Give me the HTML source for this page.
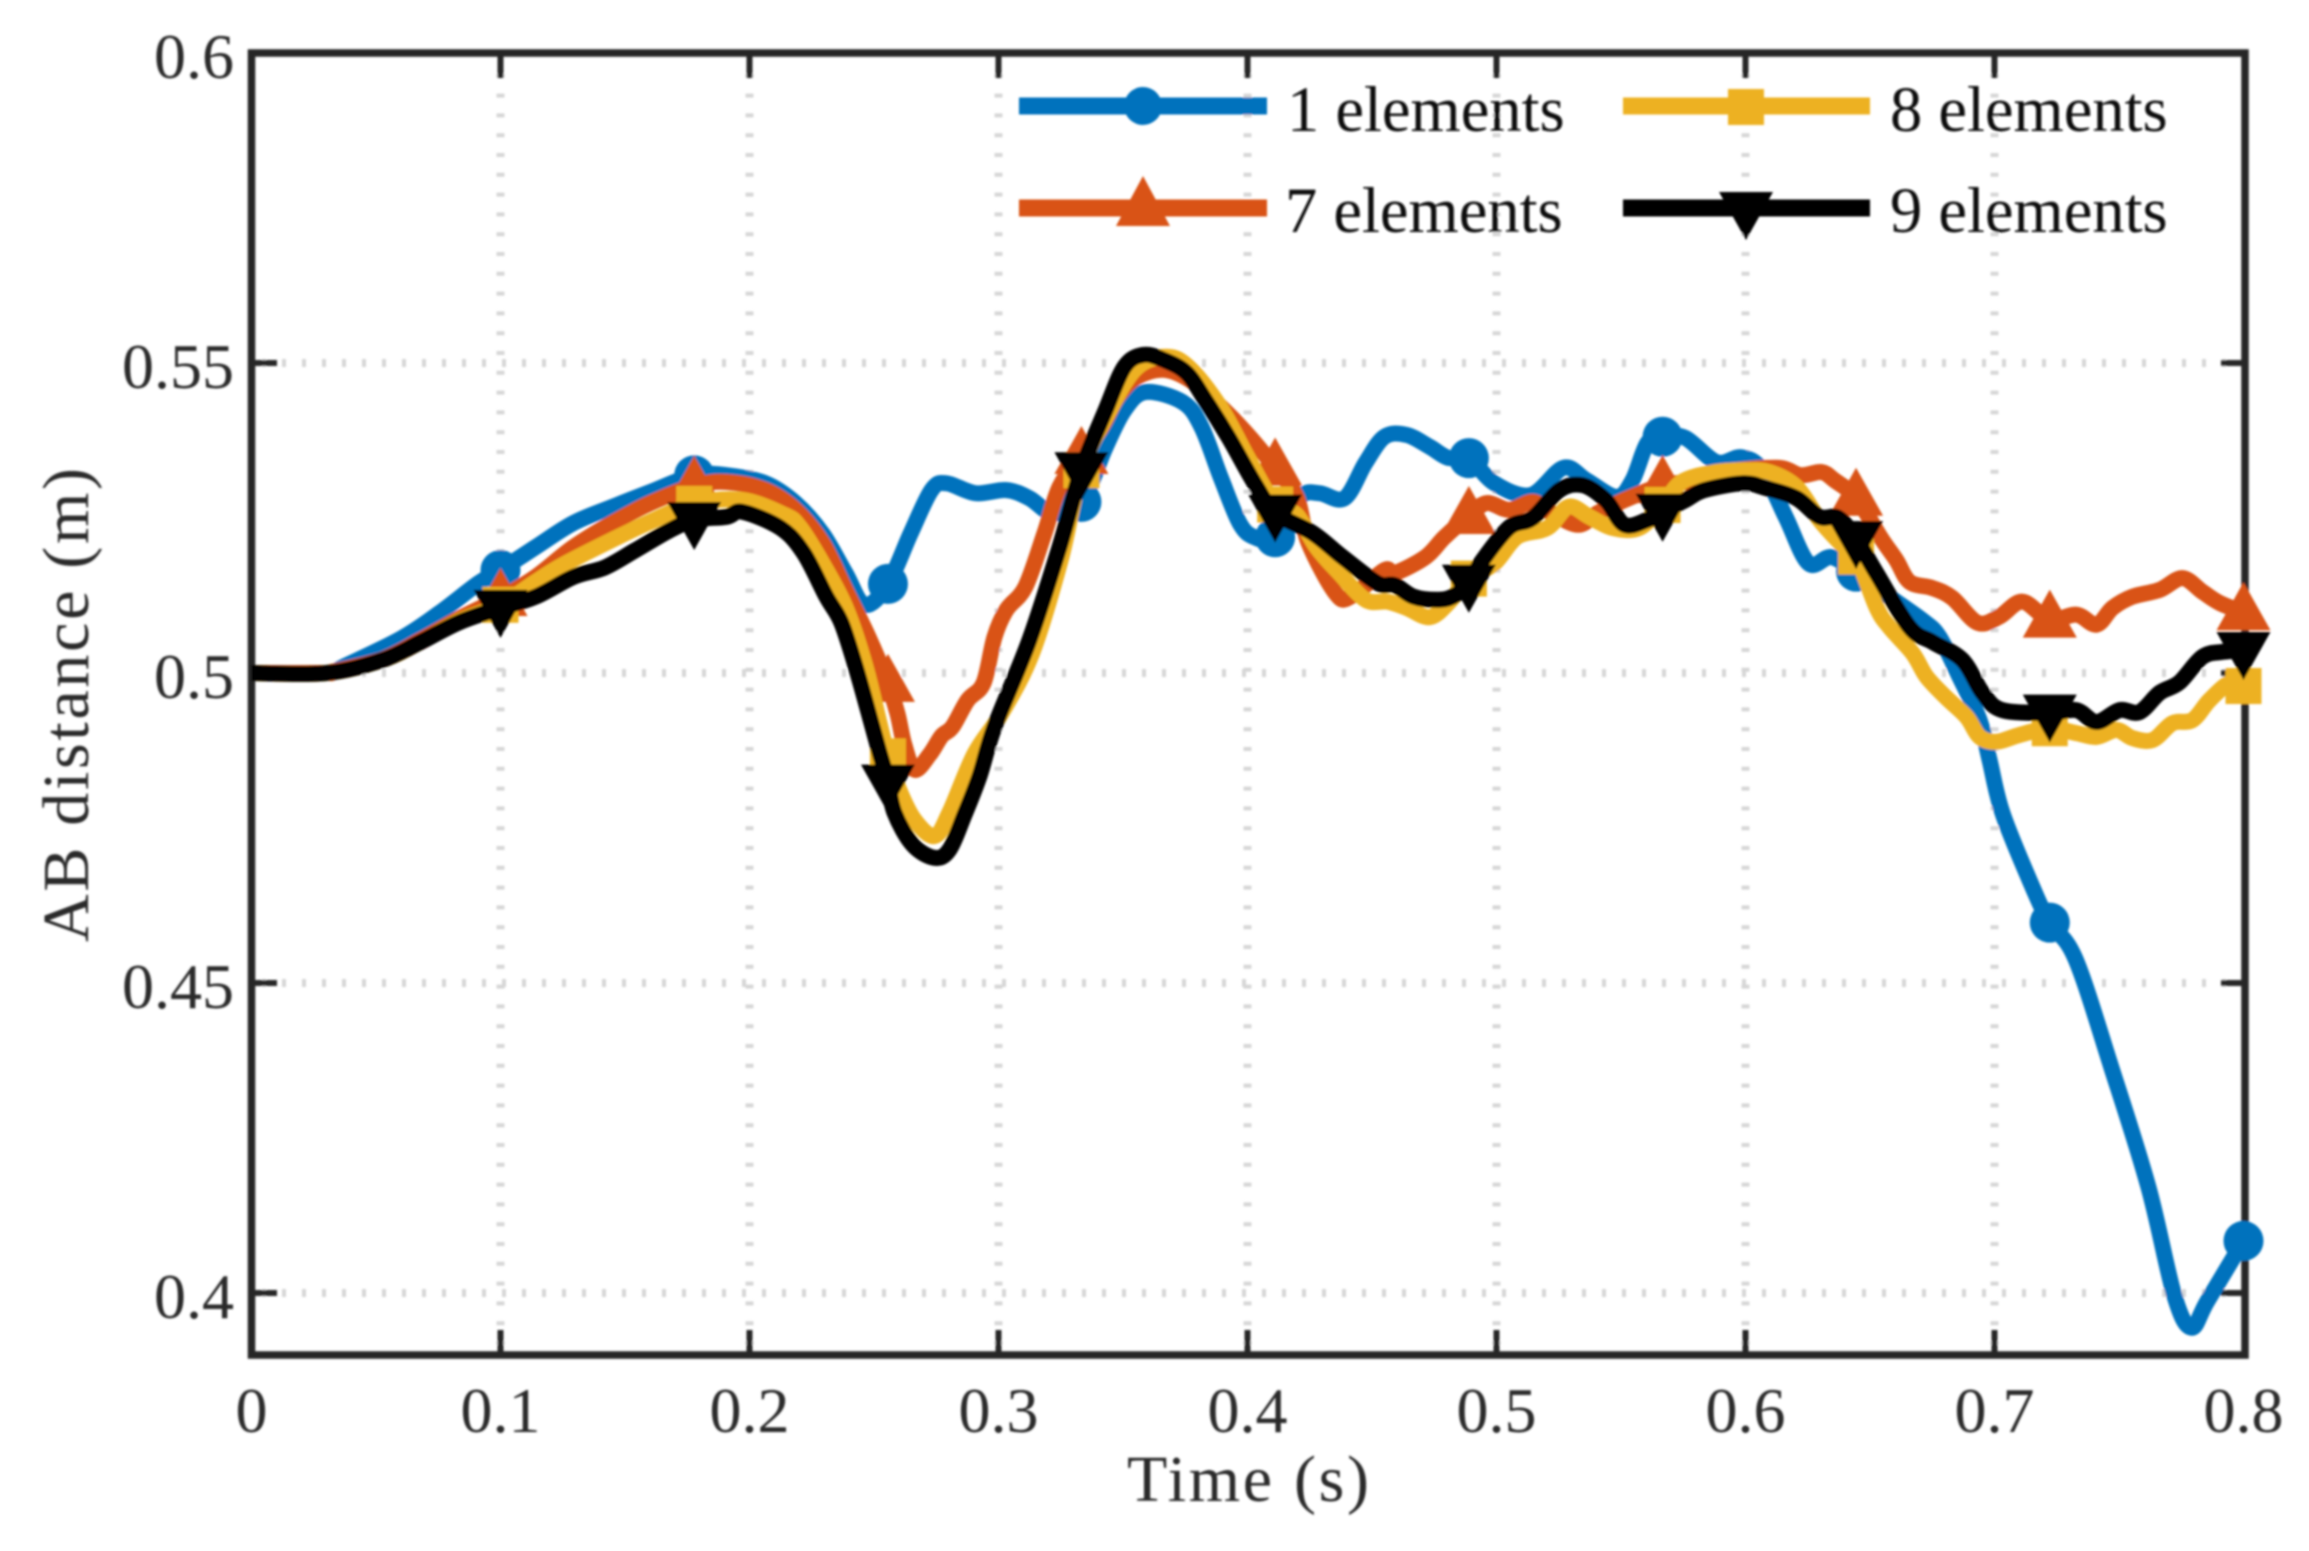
<!DOCTYPE html>
<html lang="en">
<head>
<meta charset="utf-8">
<title>AB distance over time</title>
<style>
html,body{margin:0;padding:0;background:#fff;}
#chart{display:block;width:2309px;height:1551px;}
text{font-family:"Liberation Serif",serif;}
</style>
</head>
<body>
<svg id="chart" xmlns="http://www.w3.org/2000/svg" width="2309" height="1551" viewBox="0 0 2309 1551">
  <defs>
    <filter id="soft" x="0" y="0" width="100%" height="100%" filterUnits="userSpaceOnUse" primitiveUnits="userSpaceOnUse">
      <feGaussianBlur stdDeviation="1"/>
    </filter>
  </defs>
  <rect x="0" y="0" width="2309" height="1551" fill="#ffffff"/>
  <g id="root" filter="url(#soft)">
    <g id="grid"></g>
    <g id="axes">
      <rect x="251.5" y="53" width="1993.5" height="1302" fill="none" stroke="#262626" stroke-width="7.5"/>
    </g>
    <g id="ticks"></g>
    <text x="1127" y="1501" font-size="66" fill="#2a2a2a" textLength="242" lengthAdjust="spacing">Time (s)</text>
    <text transform="translate(88,942) rotate(-90)" font-size="66" fill="#2a2a2a" textLength="474" lengthAdjust="spacing">AB distance (m)</text>
    <g id="series"></g>
    <g id="legend">
      <g>
        <line x1="1019" y1="106" x2="1267" y2="106" stroke="#0072BD" stroke-width="17"/>
        <circle cx="1143" cy="106" r="19" fill="#0072BD"/>
        <text x="1287" y="131" font-size="64.5" fill="#111">1 elements</text>
      </g>
      <g>
        <line x1="1019" y1="208" x2="1267" y2="208" stroke="#D95319" stroke-width="17"/>
        <polygon points="1143,176 1170,226 1116,226" fill="#D95319"/>
        <text x="1285" y="232" font-size="64.5" fill="#111">7 elements</text>
      </g>
      <g>
        <line x1="1623" y1="106" x2="1870" y2="106" stroke="#EDB120" stroke-width="17"/>
        <rect x="1728" y="89" width="36" height="36" fill="#EDB120"/>
        <text x="1890" y="131" font-size="64.5" fill="#111">8 elements</text>
      </g>
      <g>
        <line x1="1623" y1="208" x2="1870" y2="208" stroke="#000000" stroke-width="17"/>
        <polygon points="1746,240 1773,192 1719,192" fill="#000000"/>
        <text x="1890" y="232" font-size="64.5" fill="#111">9 elements</text>
      </g>
    </g>
  </g>
</svg>
<script>
const xTicks = [0, 0.1, 0.2, 0.3, 0.4, 0.5, 0.6, 0.7, 0.8];
const xTickLabels = ["0", "0.1", "0.2", "0.3", "0.4", "0.5", "0.6", "0.7", "0.8"];
const yTicks = [0.4, 0.45, 0.5, 0.55, 0.6];
const yTickLabels = ["0.4", "0.45", "0.5", "0.55", "0.6"];
const markerTimes = [0.1, 0.1778, 0.2556, 0.3333, 0.4111, 0.4889, 0.5667, 0.6444, 0.7222, 0.8];

const blueTimes = [0,.0301,.0373,.0602,.0755,.0912,.1,.1141,.1293,.145,.1602,.1779,.1908,.2064,.2185,.2293,.2386,.2462,.2554,.2647,.2731,.2791,.2908,.3032,.3124,.3217,.3333,.343,.3506,.359,.3739,.3815,.3892,.3968,.4028,.4112,.4213,.4289,.439,.4474,.455,.4639,.4731,.4807,.4888,.4992,.5137,.5269,.5361,.5482,.5546,.5606,.5667,.5759,.5884,.5984,.6068,.6161,.6253,.6345,.6446,.6538,.6711,.6779,.6859,.694,.698,.7032,.7149,.7221,.7325,.747,.7618,.7723,.7791,.7855,.8];
const blueValues = [.5,.5,.5011,.5056,.5097,.5145,.5166,.5203,.5242,.5268,.5292,.5319,.5319,.5306,.5274,.5225,.5161,.511,.5142,.5225,.5295,.5306,.529,.5295,.5282,.5258,.5276,.5364,.5424,.5453,.5437,.5397,.5316,.5242,.5219,.5219,.5284,.529,.5282,.5339,.5381,.5384,.5365,.5347,.5347,.5306,.5287,.5331,.5311,.5284,.5311,.5371,.5381,.5379,.534,.5348,.5327,.5252,.5177,.5187,.5163,.5134,.5085,.5058,.4994,.4924,.486,.4774,.4658,.4598,.4539,.4363,.4171,.3995,.3944,.3987,.4084];

const orangeTimes = [0,.0301,.0325,.0526,.0679,.0835,.1,.1141,.1293,.145,.1602,.1779,.1908,.2064,.2185,.2293,.2386,.2478,.2554,.2594,.2622,.2663,.2723,.2771,.2815,.2876,.294,.2984,.3032,.3108,.3185,.3245,.3333,.3414,.3478,.3554,.3663,.3767,.3876,.3984,.4112,.4197,.4245,.4353,.4414,.455,.459,.4715,.4791,.4888,.496,.5052,.5145,.5221,.5329,.5406,.5514,.5667,.5759,.5912,.6129,.6221,.6305,.6357,.6446,.6542,.6606,.6659,.6751,.6831,.6932,.702,.7112,.7221,.7329,.741,.7474,.7554,.7663,.7755,.7835,.7904,.8];
const orangeValues = [.5,.5,.5002,.5022,.5053,.5088,.5121,.5155,.5203,.5242,.5274,.5302,.5308,.5295,.5263,.521,.5134,.5058,.4985,.4935,.4884,.4844,.4868,.4898,.4913,.4956,.4984,.5058,.5102,.5139,.5226,.53,.535,.5397,.5445,.5477,.5489,.5473,.5436,.5392,.5331,.5284,.521,.5129,.5123,.5166,.5161,.5187,.5219,.5253,.5274,.5263,.5276,.5258,.5239,.5258,.5279,.5303,.5308,.5324,.5331,.5319,.5324,.5311,.5282,.5219,.5182,.5147,.5137,.5121,.5081,.5091,.5115,.5086,.5094,.5078,.5105,.5123,.5134,.5153,.5131,.5113,.5098];

const yellowTimes = [0,.0301,.0526,.0679,.0835,.1,.1141,.1249,.145,.1602,.1779,.1972,.2141,.2201,.2293,.2386,.2462,.2522,.2554,.2602,.2663,.2743,.2803,.2904,.3012,.3135,.325,.3333,.3446,.3554,.3675,.3767,.3892,.4,.4112,.4197,.4277,.4369,.4474,.4562,.4639,.4731,.4807,.4888,.4992,.5084,.5205,.5289,.5373,.5466,.5574,.5667,.5743,.5867,.5992,.6096,.6205,.6297,.639,.6446,.6526,.6578,.6671,.6727,.6807,.6888,.694,.7008,.71,.7221,.7329,.741,.749,.7554,.7635,.7715,.7795,.7863,.7944,.8];
const yellowValues = [.5,.5,.5021,.505,.5084,.511,.5147,.5174,.5215,.5244,.5273,.5279,.5255,.5236,.5177,.5106,.5016,.4919,.4868,.4811,.4763,.4737,.4775,.487,.4935,.5032,.5183,.5327,.5424,.5492,.551,.5492,.5428,.5348,.5271,.5255,.5203,.5161,.5118,.5115,.5105,.509,.5113,.5152,.5177,.522,.5234,.5268,.5252,.5234,.5234,.5271,.5308,.5323,.5327,.5324,.53,.5247,.5206,.5187,.5106,.5074,.5032,.4994,.496,.4929,.4897,.4889,.49,.4911,.4903,.4897,.4908,.4895,.4892,.4919,.4924,.4956,.4984,.4979];

const blackTimes = [0,.0301,.0526,.0679,.0835,.1,.1141,.1293,.1418,.1542,.1679,.1779,.1908,.1972,.2124,.2217,.2309,.2369,.243,.2494,.2522,.2554,.2582,.2655,.2743,.2803,.2863,.2924,.2984,.3124,.3245,.3333,.343,.3506,.3582,.3663,.3755,.3831,.3924,.4028,.4112,.4261,.4382,.4522,.459,.4667,.4759,.4823,.4888,.4944,.5052,.5145,.5253,.5345,.5438,.5514,.5606,.5667,.5759,.5835,.5992,.6084,.6205,.6297,.6373,.6446,.6526,.6659,.6751,.6871,.6952,.7032,.7221,.7329,.741,.7502,.7582,.7663,.7743,.7835,.7916,.8];
const blackValues = [.5,.5,.5021,.505,.5082,.5105,.5123,.5155,.517,.5198,.523,.5247,.5252,.526,.5234,.5194,.5123,.5081,.5005,.4913,.4872,.4827,.4775,.4723,.4702,.4715,.4771,.4834,.4913,.5053,.5203,.5327,.5424,.5494,.5513,.5505,.5484,.544,.538,.5306,.5258,.5226,.5187,.5145,.5142,.5123,.5118,.5123,.5145,.5182,.5235,.525,.5295,.5303,.5279,.5239,.5247,.526,.5279,.5295,.5306,.5298,.5282,.5252,.525,.5215,.5161,.5074,.505,.5021,.4968,.494,.4936,.494,.4921,.494,.4937,.4968,.4985,.5026,.5034,.5037];

const NS = 'http://www.w3.org/2000/svg';
const xScale = t => 251.5 + t * 2490;
const yScale = v => 1293 - (v - 0.4) * 6200;

function make(tag, attrs) {
  const el = document.createElementNS(NS, tag);
  for (const k in attrs) el.setAttribute(k, attrs[k]);
  return el;
}

function valueAt(times, values, t) {
  for (let i = 1; i < times.length; i++) {
    if (t <= times[i]) {
      const f = (t - times[i - 1]) / (times[i] - times[i - 1]);
      return values[i - 1] + f * (values[i] - values[i - 1]);
    }
  }
  return values[values.length - 1];
}

function smoothPath(times, values) {
  const p = times.map((t, i) => [xScale(t), yScale(values[i])]);
  let d = 'M' + p[0][0].toFixed(1) + ' ' + p[0][1].toFixed(1);
  for (let i = 0; i < p.length - 1; i++) {
    const a = p[Math.max(i - 1, 0)], b = p[i], c = p[i + 1], e = p[Math.min(i + 2, p.length - 1)];
    const c1x = b[0] + (c[0] - a[0]) / 6, c1y = b[1] + (c[1] - a[1]) / 6;
    const c2x = c[0] - (e[0] - b[0]) / 6, c2y = c[1] - (e[1] - b[1]) / 6;
    d += 'C' + c1x.toFixed(1) + ' ' + c1y.toFixed(1) + ' ' + c2x.toFixed(1) + ' ' + c2y.toFixed(1) + ' ' + c[0].toFixed(1) + ' ' + c[1].toFixed(1);
  }
  return d;
}

const gridGroup = document.getElementById('grid');
xTicks.slice(1, -1).forEach(t => {
  const x = xScale(t);
  const line = make('line', {x1: x, y1: 1345, x2: x, y2: 60, stroke: '#d6d6d6', 'stroke-width': 8, 'stroke-dasharray': '4 15.8'});
  
  
  gridGroup.appendChild(line);
});
yTicks.slice(0, -1).forEach(v => {
  const y = yScale(v);
  const line = make('line', {x1: 262, y1: y, x2: 2240, y2: y, stroke: '#d6d6d6', 'stroke-width': 8, 'stroke-dasharray': '4 16'});
  
  
  gridGroup.appendChild(line);
});

const tickGroup = document.getElementById('ticks');
xTicks.forEach((t, i) => {
  const x = xScale(t);
  if (i > 0 && i < xTicks.length - 1) {
    const bottom = make('line', {x1: x, y1: 1355, x2: x, y2: 1330, stroke: '#262626', 'stroke-width': 6});
    
    
    tickGroup.appendChild(bottom);
    const top = make('line', {x1: x, y1: 53, x2: x, y2: 78, stroke: '#262626', 'stroke-width': 6});
    
    
    tickGroup.appendChild(top);
  }
  const label = make('text', {x: x, y: 1432, 'text-anchor': 'middle', 'font-size': 64, fill: '#2a2a2a'});
  
  
  label.textContent = xTickLabels[i];
  tickGroup.appendChild(label);
});
yTicks.forEach((v, i) => {
  const y = yScale(v);
  if (i < yTicks.length - 1) {
    const left = make('line', {x1: 251.5, y1: y, x2: 277, y2: y, stroke: '#262626', 'stroke-width': 6});
    
    
    tickGroup.appendChild(left);
    const right = make('line', {x1: 2245, y1: y, x2: 2221, y2: y, stroke: '#262626', 'stroke-width': 6});
    
    
    tickGroup.appendChild(right);
  }
  const label = make('text', {x: 234, y: y + 25, 'text-anchor': 'end', 'font-size': 64, fill: '#2a2a2a'});
  
  
  label.textContent = yTickLabels[i];
  tickGroup.appendChild(label);
});

function drawMarker(group, kind, x, y, color) {
  let m;
  if (kind === 'circle') {
    m = make('circle', {cx: x, cy: y, r: 20, fill: color});
  } else if (kind === 'square') {
    m = make('rect', {x: x - 18, y: y - 18, width: 36, height: 36, fill: color});
  } else if (kind === 'up') {
    m = make('polygon', {points: x + ',' + (y - 30) + ' ' + (x + 27) + ',' + (y + 18) + ' ' + (x - 27) + ',' + (y + 18), fill: color});
  } else {
    m = make('polygon', {points: x + ',' + (y + 30) + ' ' + (x + 27) + ',' + (y - 18) + ' ' + (x - 27) + ',' + (y - 18), fill: color});
  }
  
  
  group.appendChild(m);
}

function drawSeries(times, values, color, kind, width) {
  const group = make('g', {});
  
  
  const path = make('path', {d: smoothPath(times, values), fill: 'none', stroke: color, 'stroke-width': width, 'stroke-linejoin': 'round', 'stroke-linecap': 'butt'});
  
  
  group.appendChild(path);
  markerTimes.forEach(t => {
    drawMarker(group, kind, xScale(t), yScale(valueAt(times, values, t)), color);
  });
  document.getElementById('series').appendChild(group);
}

drawSeries(blueTimes, blueValues, '#0072BD', 'circle', 16);
drawSeries(orangeTimes, orangeValues, '#D95319', 'up', 16);
drawSeries(yellowTimes, yellowValues, '#EDB120', 'square', 16);
drawSeries(blackTimes, blackValues, '#000000', 'down', 16);
</script>
</body>
</html>
